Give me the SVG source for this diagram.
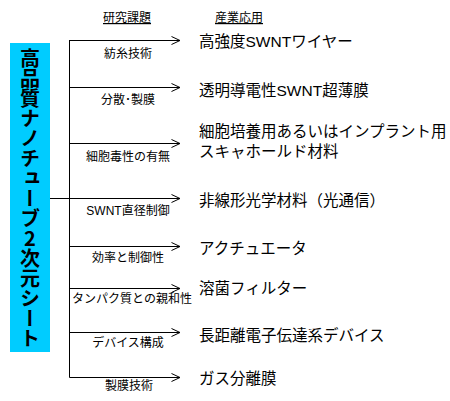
<svg xmlns="http://www.w3.org/2000/svg" width="450" height="401" viewBox="0 0 450 401">
<defs>
<marker id="arr" viewBox="0 0 10 10" refX="9.5" refY="5" markerWidth="10" markerHeight="10" markerUnits="userSpaceOnUse" orient="auto">
<path d="M1,1 L9.5,5 L1,9" fill="none" stroke="#000" stroke-width="1"/>
</marker>
<style>
text{font-family:"Liberation Sans","Noto Sans CJK JP",sans-serif;fill:#000}
.hd{font-size:12px;text-decoration:underline}
.lb{font-size:12px;text-anchor:middle}
.ap{font-size:15.5px}
.ln{stroke:#000;stroke-width:1;fill:none}
.ar{stroke:#000;stroke-width:1;fill:none;marker-end:url(#arr)}
</style>
</defs>
<rect width="450" height="401" fill="#fff"/>
<g id="headers">
<text class="hd" x="103" y="22">研究課題</text>
<text class="hd" x="215" y="22">産業応用</text>
</g>
<g id="root">
<rect x="10" y="43" width="40" height="309" fill="#00ccff"/>
<text x="30" y="48" style="font-family:'Noto Sans CJK JP',sans-serif;font-size:20px;font-weight:bold;writing-mode:vertical-rl;text-orientation:upright">高品質ナノチューブ2次元シート</text>
</g>
<g id="connectors">
<line class="ln" x1="50" y1="198.5" x2="69.5" y2="198.5"/>
<line class="ln" x1="69.5" y1="40" x2="69.5" y2="377.5"/>
<line class="ar" x1="69.5" y1="40.5" x2="180" y2="40.5"/>
<line class="ar" x1="69.5" y1="87.5" x2="180" y2="87.5"/>
<line class="ar" x1="69.5" y1="143.5" x2="180" y2="143.5"/>
<line class="ar" x1="69.5" y1="198.5" x2="180" y2="198.5"/>
<line class="ar" x1="69.5" y1="246.5" x2="180" y2="246.5"/>
<line class="ar" x1="69.5" y1="288.5" x2="180" y2="288.5"/>
<line class="ar" x1="69.5" y1="332.5" x2="180" y2="332.5"/>
<line class="ar" x1="69.5" y1="377.5" x2="180" y2="377.5"/>
</g>
<g id="labels">
<text class="lb" x="128" y="58">紡糸技術</text>
<text class="lb" x="128" y="104">分散･製膜</text>
<text class="lb" x="128" y="161">細胞毒性の有無</text>
<text class="lb" x="128" y="215">SWNT直径制御</text>
<text class="lb" x="128" y="262">効率と制御性</text>
<text class="lb" x="132" y="303">タンパク質との親和性</text>
<text class="lb" x="128" y="347">デバイス構成</text>
<text class="lb" x="129" y="390">製膜技術</text>
</g>
<g id="app1"><text class="ap" x="199" y="47">高強度SWNTワイヤー</text></g>
<g id="app2"><text class="ap" x="199" y="96">透明導電性SWNT超薄膜</text></g>
<g id="app3"><text class="ap" x="199" y="137">細胞培養用あるいはインプラント用</text><text class="ap" x="199" y="157">スキャホールド材料</text></g>
<g id="app4"><text class="ap" x="199" y="206">非線形光学材料（光通信）</text></g>
<g id="app5"><text class="ap" x="199" y="254">アクチュエータ</text></g>
<g id="app6"><text class="ap" x="199" y="294">溶菌フィルター</text></g>
<g id="app7"><text class="ap" x="199" y="341">長距離電子伝達系デバイス</text></g>
<g id="app8"><text class="ap" x="199" y="384">ガス分離膜</text></g>
</svg>
